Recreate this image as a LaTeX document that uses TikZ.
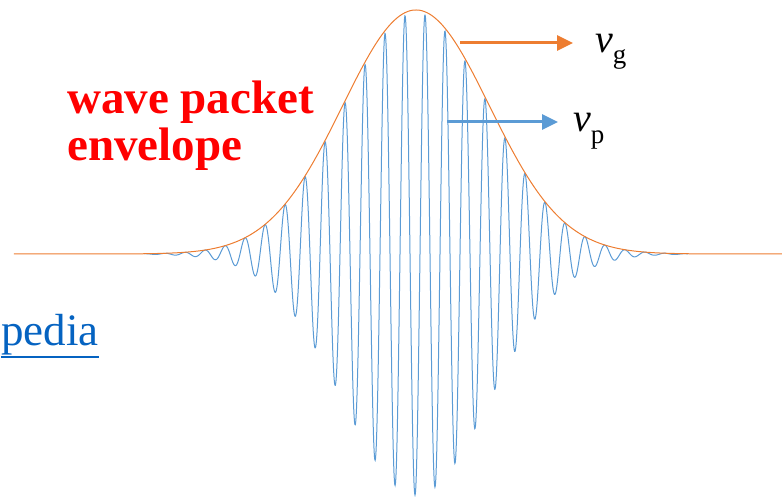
\documentclass[tikz,border=0pt]{standalone}
\usepackage{fontspec}
\setmainfont{Liberation Serif}
\usetikzlibrary{arrows.meta}
\definecolor{orangeA}{HTML}{ED7D31}
\definecolor{blueA}{HTML}{5B9BD5}
\definecolor{linkblue}{HTML}{0563C1}
\begin{document}
\begin{tikzpicture}[x=1pt,y=-1pt,
  wave/.style={blueA, line width=1pt},
  env/.style={orangeA, line width=1pt},
  velarrow/.style={line width=3pt, -{Triangle[length=16pt,width=15pt]}},
  lbl/.style={inner sep=0pt, font=\fontsize{40}{40}\selectfont}]
\useasboundingbox (0,0) rectangle (782,497);
% carrier wave
\draw[wave] plot[domain=-3.7:3.7, samples=1500] ({416+73.5*\x},{254+241*exp(-\x*\x/2)*cos(1323*\x+18)});
% envelope
\draw[env] plot[domain=-5.47:4.98, samples=400] ({416+73.5*\x},{254-244*exp(-\x*\x/2)});
% title
\node[anchor=north west, inner sep=0pt, align=left, text=red, font=\fontsize{47}{47}\selectfont\bfseries] (title) at (67,81) {wave packet\\envelope};
% group velocity
\coordinate (g0) at (460,43);
\coordinate (g1) at (573,43);
\draw[velarrow, orangeA] (g0) -- (g1);
\node[lbl, anchor=base west] (vg) at (595,53) {\textit{v}\raisebox{-11pt}{\fontsize{27}{27}\selectfont g}};
% phase velocity
\coordinate (p0) at (447,122);
\coordinate (p1) at (558,122);
\draw[velarrow, blueA] (p0) -- (p1);
\node[lbl, anchor=base west] (vp) at (573,132) {\textit{v}\raisebox{-12pt}{\fontsize{27}{27}\selectfont p}};
% link fragment
\node[anchor=base east, inner sep=0pt, text=linkblue, font=\fontsize{45}{45}\selectfont] (wiki) at (99,345) {pedia};
\draw[linkblue, line width=2pt] ([yshift=-12pt]wiki.base west) -- ([yshift=-12pt]wiki.base east);
\end{tikzpicture}
\end{document}
